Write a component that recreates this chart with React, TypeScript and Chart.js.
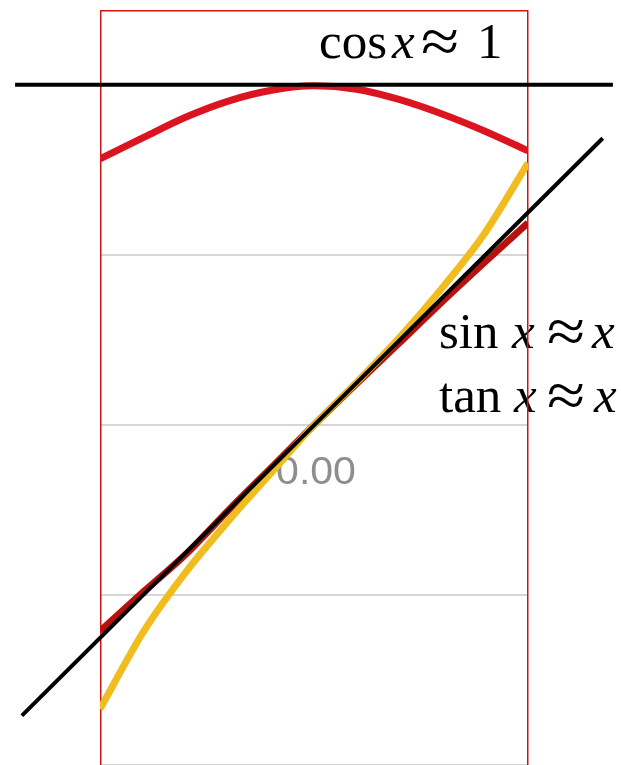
import React, { useEffect, useRef } from "react";
import { Chart, registerables } from "chart.js";

Chart.register(...registerables);

// ---- data ----
const xValues = [-0.63, -0.5, -0.375, -0.25, -0.125, 0, 0.125, 0.25, 0.375, 0.5, 0.63];
const cosValues = [0.782, 0.846, 0.906, 0.953, 0.984, 0.997, 0.987, 0.957, 0.915, 0.865, 0.806];
const sinValues = [-0.607, -0.489, -0.378, -0.249, -0.125, 0, 0.121, 0.24, 0.36, 0.476, 0.594];
const tanValues = [-0.835, -0.605, -0.43, -0.28, -0.14, 0, 0.125, 0.255, 0.4, 0.56, 0.77];

const cosApproxX = [-0.88, 0.88];
const cosApproxY = [1, 1];
const lineApproxX = [-0.86, 0.85];
const lineApproxY = [-0.855, 0.843];

const yTicks = [-1, -0.5, 0, 0.5, 1];
const originLabel = "0.00";

const cosRuns = ["cos", "x", "≈", "1"];
const sinRuns = ["sin", "x", "≈", "x"];
const tanRuns = ["tan", "x", "≈", "x"];

const toPoints = (xs: number[], ys: number[]) => xs.map((x, i) => ({ x, y: ys[i] }));

const SERIF = '"Liberation Serif", "Times New Roman", serif';

function drawFormula(ctx: CanvasRenderingContext2D, runs: string[], xs: number[], baseline: number) {
  const [fn, v1, approx, rhs] = runs;
  ctx.font = `51px ${SERIF}`;
  ctx.fillText(fn, xs[0], baseline);
  ctx.font = `italic 51px ${SERIF}`;
  ctx.fillText(v1, xs[1], baseline);
  ctx.save();
  ctx.translate(xs[2], baseline + 4);
  ctx.scale(1.12, 1);
  ctx.font = `62px ${SERIF}`;
  ctx.fillText(approx, 0, 0);
  ctx.restore();
  ctx.font = `${rhs === "x" ? "italic " : ""}51px ${SERIF}`;
  ctx.fillText(rhs, xs[3], baseline);
}

const decorPlugin = {
  id: "decor",
  beforeDatasetsDraw(chart: any) {
    const { ctx, chartArea } = chart;
    ctx.save();
    // origin tick label
    ctx.save();
    ctx.fillStyle = "#8e8e8e";
    ctx.filter = "blur(0.5px)";
    ctx.font = '38px "Liberation Sans", Arial, sans-serif';
    ctx.textAlign = "center";
    ctx.textBaseline = "alphabetic";
    ctx.translate(316, 484);
    ctx.scale(1.08, 1);
    ctx.fillText(originLabel, 0, 0);
    ctx.restore();

    // formula texts
    ctx.fillStyle = "#000";
    ctx.textAlign = "left";
    ctx.textBaseline = "alphabetic";
    drawFormula(ctx, cosRuns, [319, 392, 421, 477], 58);
    drawFormula(ctx, sinRuns, [439, 512, 547, 592], 348);
    drawFormula(ctx, tanRuns, [439, 514, 547, 594], 412);

    // red frame
    ctx.strokeStyle = "#d01414";
    ctx.lineWidth = 1.5;
    ctx.strokeRect(chartArea.left + 0.75, chartArea.top + 0.75, chartArea.right - chartArea.left - 1, 900);
    ctx.restore();
  },
};

export default function App() {
  const ref = useRef<HTMLCanvasElement | null>(null);

  useEffect(() => {
    if (!ref.current) return;
    const curve = { pointRadius: 0, borderWidth: 7, cubicInterpolationMode: "monotone" as const, clip: 0 as any };
    const chart = new Chart(ref.current, {
      type: "line",
      data: {
        datasets: [
          {
            label: "y = x",
            data: toPoints(lineApproxX, lineApproxY),
            borderColor: "#000",
            borderWidth: 4,
            pointRadius: 0,
            tension: 0,
            clip: false as any,
          },
          {
            label: "y = 1",
            data: toPoints(cosApproxX, cosApproxY),
            borderColor: "#000",
            borderWidth: 4,
            pointRadius: 0,
            tension: 0,
            clip: false as any,
          },
          { label: "cos", data: toPoints(xValues, cosValues), borderColor: "#dc1420", ...curve },
          { label: "tan", data: toPoints(xValues, tanValues), borderColor: "#f0bc1e", ...curve },
          { label: "sin", data: toPoints(xValues, sinValues), borderColor: "#b8120f", ...curve },
        ],
      },
      options: {
        animation: false,
        responsive: false,
        layout: { padding: { left: 100, right: 93, top: 10, bottom: 0 } },
        plugins: { legend: { display: false }, tooltip: { enabled: false } },
        scales: {
          x: { type: "linear", min: -0.63, max: 0.63, display: false },
          y: {
            type: "linear",
            min: -1,
            max: 1.22,
            afterBuildTicks: (scale: any) => {
              scale.ticks = yTicks.map((v) => ({ value: v }));
            },
            ticks: { display: false },
            border: { display: false },
            grid: { color: "#d6d6d6", lineWidth: 2, drawTicks: false },
          },
        },
      },
      plugins: [decorPlugin],
    });
    return () => chart.destroy();
  }, []);

  return (
    <canvas
      ref={ref}
      width={621}
      height={765}
      style={{ position: "fixed", left: 0, top: 0, display: "block", background: "#fff" }}
    />
  );
}
